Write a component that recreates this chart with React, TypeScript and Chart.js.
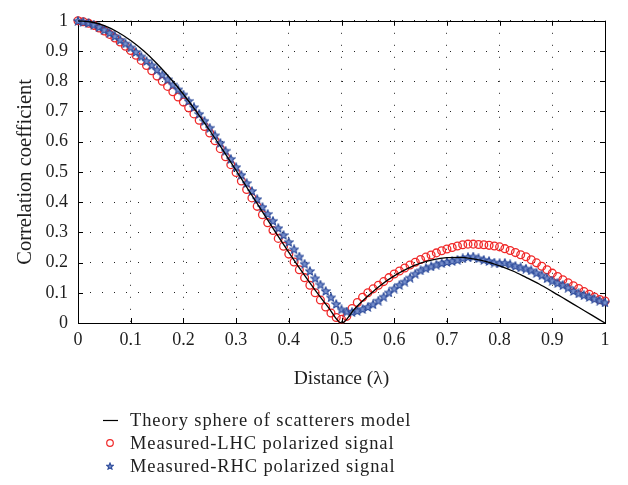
import React, { useEffect, useRef } from 'react';
import { Chart, registerables } from 'chart.js';
Chart.register(...registerables);

// Theory curve
const theoryDistance = [0, 0.025, 0.05, 0.075, 0.1, 0.125, 0.15, 0.175, 0.2, 0.225, 0.25, 0.275, 0.3, 0.325, 0.35, 0.375, 0.4, 0.425, 0.45, 0.475, 0.5, 0.525, 0.55, 0.575, 0.6, 0.625, 0.65, 0.675, 0.7, 0.725, 0.75, 0.775, 0.8, 0.825, 0.85, 0.875, 0.9, 0.925, 0.95, 0.975, 1];
const theoryCorr = [1, 0.996, 0.984, 0.963, 0.935, 0.9, 0.858, 0.81, 0.757, 0.699, 0.637, 0.572, 0.505, 0.436, 0.368, 0.3, 0.234, 0.17, 0.109, 0.052, 0, 0.047, 0.089, 0.126, 0.156, 0.18, 0.198, 0.21, 0.216, 0.217, 0.212, 0.203, 0.189, 0.172, 0.151, 0.129, 0.104, 0.078, 0.052, 0.026, 0];

// Measured LHC (red circles), sampled every 0.01 lambda
const lhcCorr = [
  1.0, 0.997, 0.992, 0.985, 0.976, 0.966, 0.955, 0.943, 0.93, 0.916,
  0.902, 0.886, 0.869, 0.852, 0.835, 0.817, 0.8, 0.783, 0.765, 0.748,
  0.731, 0.712, 0.692, 0.671, 0.65, 0.629, 0.603, 0.577, 0.55, 0.524,
  0.498, 0.47, 0.442, 0.414, 0.386, 0.358, 0.332, 0.306, 0.28, 0.254,
  0.228, 0.202, 0.176, 0.15, 0.125, 0.1, 0.076, 0.053, 0.033, 0.018,
  0.012, 0.022, 0.048, 0.068, 0.085, 0.1, 0.113, 0.125, 0.137, 0.15,
  0.162, 0.172, 0.182, 0.192, 0.201, 0.21, 0.218, 0.225, 0.232, 0.239,
  0.245, 0.25, 0.255, 0.259, 0.261, 0.261, 0.26, 0.259, 0.257, 0.255,
  0.252, 0.246, 0.24, 0.233, 0.226, 0.219, 0.209, 0.199, 0.188, 0.176,
  0.165, 0.154, 0.143, 0.133, 0.123, 0.114, 0.104, 0.095, 0.086, 0.078,
  0.073,
];

// Measured RHC (blue stars), sampled every 0.01 lambda
const rhcCorr = [
  1.0, 0.997, 0.993, 0.987, 0.979, 0.97, 0.96, 0.949, 0.937, 0.925,
  0.912, 0.897, 0.882, 0.867, 0.853, 0.838, 0.822, 0.806, 0.789, 0.773,
  0.756, 0.735, 0.714, 0.692, 0.669, 0.646, 0.621, 0.596, 0.57, 0.543,
  0.516, 0.49, 0.463, 0.437, 0.41, 0.384, 0.361, 0.338, 0.314, 0.291,
  0.268, 0.244, 0.22, 0.196, 0.172, 0.148, 0.127, 0.106, 0.085, 0.063,
  0.045, 0.038, 0.036, 0.04, 0.046, 0.053, 0.062, 0.074, 0.087, 0.101,
  0.114, 0.126, 0.137, 0.15, 0.163, 0.174, 0.181, 0.187, 0.193, 0.198,
  0.202, 0.205, 0.209, 0.214, 0.218, 0.22, 0.214, 0.209, 0.205, 0.2,
  0.198, 0.199, 0.194, 0.189, 0.184, 0.18, 0.174, 0.166, 0.158, 0.148,
  0.14, 0.132, 0.125, 0.117, 0.106, 0.098, 0.092, 0.086, 0.08, 0.074,
  0.068,
];

const measuredDistance = lhcCorr.map((_, i) => Math.round(i) / 100);

const seriesNames = [
  'Theory sphere of scatterers model',
  'Measured-LHC polarized signal',
  'Measured-RHC polarized signal',
];
const xTitle = 'Distance (λ)';
const yTitle = 'Correlation coefficient';

const FONT = '"Liberation Serif", "Times New Roman", serif';
const TEXT = '#1e1e1e';
const RED = '#f02828';
const BLUE_STROKE = '#2c4a9a';
const BLUE_FILL = '#7890cc';

function makeStar(size: number): HTMLCanvasElement {
  const c = document.createElement('canvas');
  c.width = size;
  c.height = size;
  const g = c.getContext('2d')!;
  const cx = size / 2;
  const cy = size / 2 + 0.4;
  const R = size / 2 - 0.6;
  const r = R * 0.45;
  g.beginPath();
  for (let k = 0; k < 10; k++) {
    const ang = -Math.PI / 2 + (k * Math.PI) / 5;
    const rad = k % 2 === 0 ? R : r;
    const x = cx + rad * Math.cos(ang);
    const y = cy + rad * Math.sin(ang);
    if (k === 0) g.moveTo(x, y);
    else g.lineTo(x, y);
  }
  g.closePath();
  g.fillStyle = BLUE_FILL;
  g.fill();
  g.strokeStyle = BLUE_STROKE;
  g.lineWidth = 1.1;
  g.stroke();
  return c;
}

function fmt(v: number): string {
  const r = Math.round(v * 10) / 10;
  return String(r);
}

export default function App() {
  const ref = useRef<HTMLCanvasElement>(null);

  useEffect(() => {
    if (!ref.current) return;
    const star = makeStar(10);
    const legendStar = makeStar(8);

    const framePlugin = {
      id: 'frame',
      beforeDatasetsDraw(chart: any) {
        const { ctx, chartArea: a, scales } = chart;
        ctx.save();
        ctx.strokeStyle = '#000';
        ctx.lineWidth = 1;
        const tl = 5;
        ctx.beginPath();
        scales.x.ticks.forEach((t: any) => {
          const px = Math.round(scales.x.getPixelForValue(t.value)) + 0.5;
          ctx.moveTo(px, a.bottom);
          ctx.lineTo(px, a.bottom - tl);
          ctx.moveTo(px, a.top);
          ctx.lineTo(px, a.top + tl);
        });
        scales.y.ticks.forEach((t: any) => {
          const py = Math.round(scales.y.getPixelForValue(t.value)) + 0.5;
          ctx.moveTo(a.left, py);
          ctx.lineTo(a.left + tl, py);
          ctx.moveTo(a.right, py);
          ctx.lineTo(a.right - tl, py);
        });
        ctx.stroke();
        ctx.strokeRect(
          Math.round(a.left) + 0.5,
          Math.round(a.top) + 0.5,
          Math.round(a.right - a.left),
          Math.round(a.bottom - a.top)
        );
        ctx.restore();
      },
    };

    const legendPlugin = {
      id: 'customLegend',
      afterDraw(chart: any) {
        const { ctx } = chart;
        ctx.save();
        ctx.font = `18.5px ${FONT}`;
        try {
          (ctx as any).letterSpacing = '0.9px';
        } catch (e) {}
        ctx.fillStyle = TEXT;
        ctx.textBaseline = 'middle';
        ctx.textAlign = 'left';
        const rows = [420, 443, 466];
        const tx = 130;
        ctx.strokeStyle = '#000';
        ctx.lineWidth = 1.2;
        ctx.beginPath();
        ctx.moveTo(103, rows[0] + 0.5);
        ctx.lineTo(118, rows[0] + 0.5);
        ctx.stroke();
        ctx.strokeStyle = RED;
        ctx.lineWidth = 1.2;
        ctx.beginPath();
        ctx.arc(110, rows[1], 3.3, 0, Math.PI * 2);
        ctx.stroke();
        ctx.drawImage(legendStar, 110 - legendStar.width / 2, rows[2] - legendStar.height / 2);
        seriesNames.forEach((n, i) => ctx.fillText(n, tx, rows[i] + 1));
        ctx.restore();
      },
    };

    const chart = new Chart(ref.current, {
      type: 'scatter',
      data: {
        datasets: [
          {
            label: seriesNames[0],
            data: theoryDistance.map((x, i) => ({ x, y: theoryCorr[i] })),
            showLine: true,
            borderColor: '#000',
            borderWidth: 1.3,
            pointRadius: 0,
            cubicInterpolationMode: 'monotone',
            order: 0,
            clip: false,
          } as any,
          {
            label: seriesNames[1],
            data: measuredDistance.map((x, i) => ({ x, y: lhcCorr[i] })),
            showLine: false,
            pointStyle: 'circle',
            pointRadius: 3.9,
            pointBorderWidth: 1.3,
            pointBorderColor: RED,
            pointBackgroundColor: 'rgba(0,0,0,0)',
            order: 2,
            clip: false,
          } as any,
          {
            label: seriesNames[2],
            data: measuredDistance.map((x, i) => ({ x, y: rhcCorr[i] })),
            showLine: false,
            pointStyle: star,
            pointRadius: 5,
            order: 1,
            clip: false,
          } as any,
        ],
      },
      options: {
        animation: false,
        responsive: false,
        maintainAspectRatio: false,
        devicePixelRatio: 1,
        layout: { padding: { left: 0, top: 11, right: 23, bottom: 92 } },
        plugins: {
          legend: { display: false },
          tooltip: { enabled: false },
        },
        scales: {
          x: {
            type: 'linear',
            min: 0,
            max: 1,
            ticks: {
              stepSize: 0.1,
              color: TEXT,
              font: { family: FONT, size: 18 },
              padding: 6,
              maxRotation: 0,
              callback: (v: any) => fmt(Number(v)),
            },
            grid: {
              color: '#222',
              lineWidth: 1,
              drawTicks: false,
            },
            border: { display: false, dash: [1, 11] },
            title: {
              display: true,
              text: xTitle,
              color: TEXT,
              font: { family: FONT, size: 19.5 },
              padding: { top: 0, bottom: 2 },
            },
            afterFit: (s: any) => {
              s.height = 70;
            },
          },
          y: {
            type: 'linear',
            min: 0,
            max: 1,
            ticks: {
              stepSize: 0.1,
              color: TEXT,
              font: { family: FONT, size: 18 },
              padding: 10,
              callback: (v: any) => fmt(Number(v)),
            },
            grid: {
              color: '#222',
              lineWidth: 1,
              drawTicks: false,
            },
            border: { display: false, dash: [1, 11] },
            title: {
              display: true,
              text: yTitle,
              color: TEXT,
              font: { family: FONT, size: 20.5 },
              padding: { top: 13, bottom: 0 },
            },
            afterFit: (s: any) => {
              s.width = 78;
            },
          },
        },
      } as any,
      plugins: [framePlugin, legendPlugin],
    });
    return () => chart.destroy();
  }, []);

  return (
    <div style={{ position: 'absolute', left: 0, top: 0, width: 628, height: 485 }}>
      <canvas ref={ref} width={628} height={485} style={{ width: 628, height: 485, display: 'block' }} />
    </div>
  );
}
